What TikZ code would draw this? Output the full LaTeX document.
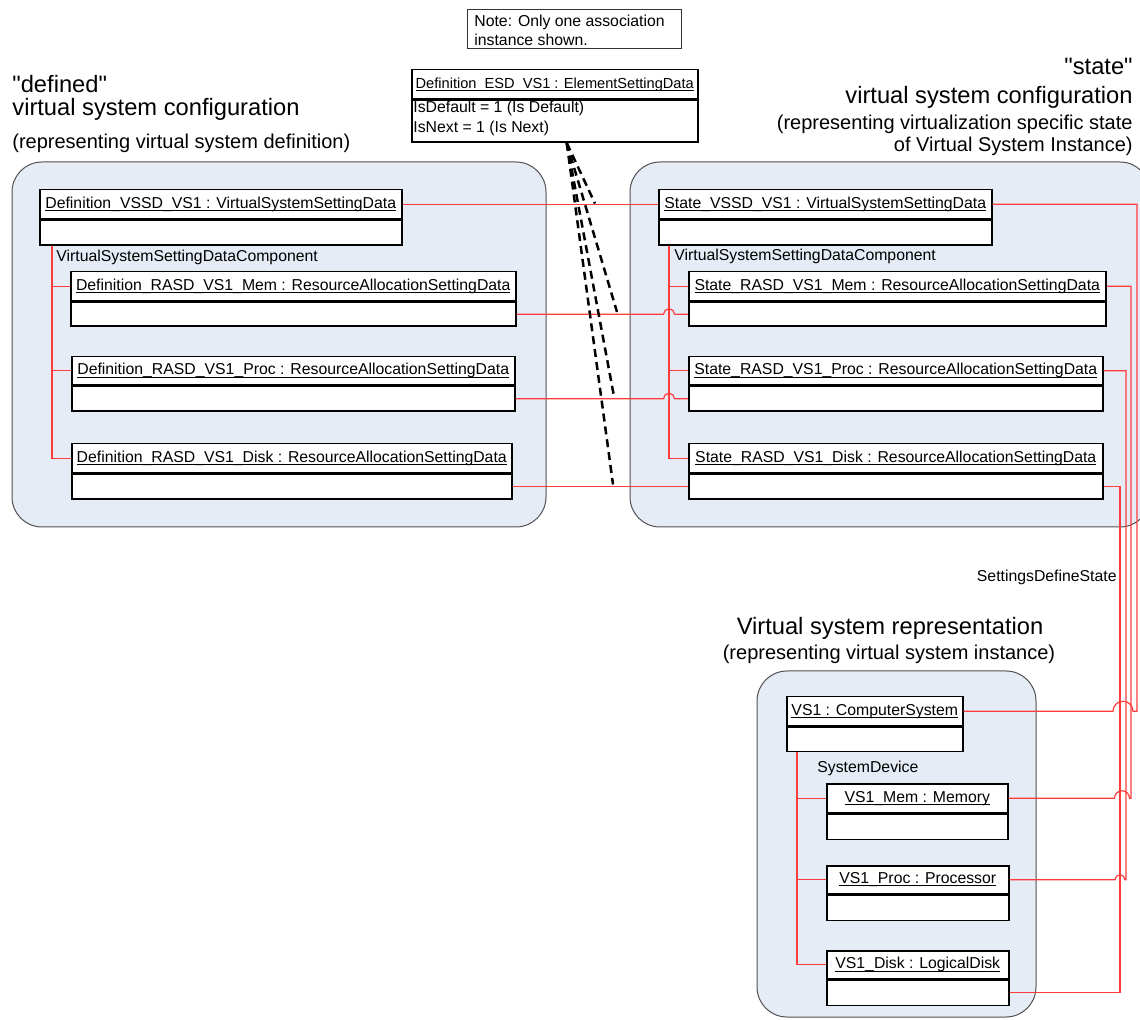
\documentclass[tikz,border=0pt]{standalone}
\usepackage{fontspec}
\setmainfont{Liberation Sans}
\newfontfamily\plainsans{Liberation Sans}
\usetikzlibrary{calc}

\definecolor{panelfill}{RGB}{230,236,246}
\definecolor{panelline}{RGB}{80,80,80}
\definecolor{assocred}{RGB}{255,60,60}

\newcommand{\boxfont}{\fontsize{7.9pt}{9.5pt}\selectfont}
\newcommand{\esdfont}{\fontsize{7.3pt}{9pt}\selectfont}
\newcommand{\titlefont}{\fontsize{11.85pt}{14pt}\selectfont}
\newcommand{\subfont}{\fontsize{10pt}{12pt}\selectfont}

% underlined object name, rule placed level with the underscores
\newsavebox{\ulsave}
\newcommand{\ulname}[1]{\sbox\ulsave{#1}\rlap{\rule[-1.35pt]{\wd\ulsave}{0.5pt}}\usebox\ulsave}

\tikzset{
  panel/.style={draw=panelline, fill=panelfill, line width=0.5pt, rounded corners=15pt},
  objhead/.style={draw=black, fill=white, line width=0.75pt, inner sep=0pt, font=\boxfont},
  objbody/.style={draw=black, fill=white, line width=0.75pt, inner sep=0pt},
  notebox/.style={draw=black!80, fill=white, line width=0.5pt, inner sep=0pt},
  assoc/.style={draw=assocred, line width=0.6pt},
  elsd/.style={draw=black, line width=1.25pt, dash pattern=on 4pt off 2.5pt},
  lbl/.style={inner sep=0pt, font=\boxfont},
  ttl/.style={inner sep=0pt, font=\titlefont},
  sub/.style={inner sep=0pt, font=\subfont},
}

% UML object: name, x1, y1, x2, y of divider, y2, title (pixel units)
\newcommand{\umlobj}[7]{%
  \node[objhead, anchor=north west, minimum width={(#4-#2)*0.5pt},
        minimum height={(#5-#3)*0.5pt}] (#1) at (#2,#3) {\ulname{#7}};
  \node[objbody, anchor=north west, minimum width={(#4-#2)*0.5pt},
        minimum height={(#6-#5)*0.5pt}] (#1b) at (#1.south west) {};
}

\begin{document}
\begin{tikzpicture}[x=0.5pt,y=-0.5pt]
\useasboundingbox (0,0) rectangle (1140,1020);

% containers
\draw[panel] (12,162) rectangle (546,527);
\begin{scope}
  \clip (0,0) rectangle (1140,1020);
  \draw[panel] (630,162) rectangle (1150,527);
\end{scope}
\draw[panel] (757,671) rectangle (1036,1017);

% titles
\node[ttl, anchor=base west] (dt1) at (12,93) {\plainsans "defined"};
\node[ttl, anchor=base west] (dt2) at (12,116) {virtual system configuration};
\node[sub, anchor=base west] (dt3) at (12,149) {(representing virtual system definition)};

\node[ttl, anchor=base east] (st1) at (1133,75) {\plainsans "state"};
\node[ttl, anchor=base east] (st2) at (1133,104) {virtual system configuration};
\node[sub, anchor=base east] (st3) at (1133,130) {(representing virtualization specific state};
\node[sub, anchor=base east] (st4) at (1133,152) {of Virtual System Instance)};

\node[ttl, anchor=base] (vt1) at (890,635) {Virtual system representation};
\node[sub, anchor=base] (vt2) at (889,660) {(representing virtual system instance)};

% note
\node[notebox, anchor=north west, minimum width=107pt, minimum height=19.5pt] (note) at (467,9) {};
\node[lbl, anchor=base west] (note1) at (474,27) {Note: Only one association};
\node[lbl, anchor=base west] (note2) at (474,46) {instance shown.};

% element setting data
\node[objhead, font=\esdfont, anchor=north west, minimum width=143pt, minimum height=14.5pt]
  (esd) at (411,69) {\ulname{Definition\_ESD\_VS1 : ElementSettingData}};
\node[objbody, anchor=north west, minimum width=143pt, minimum height=21pt] (esdb) at (esd.south west) {};
\node[lbl, anchor=base west] (esdl1) at (413,113) {IsDefault = 1 (Is Default)};
\node[lbl, anchor=base west] (esdl2) at (413,133) {IsNext = 1 (Is Next)};

% defined configuration
\umlobj{dvssd}{39}{189}{401}{218}{243}{Definition\_VSSD\_VS1 : VirtualSystemSettingData}
\umlobj{dmem}{70}{271}{515}{300}{324}{Definition\_RASD\_VS1\_Mem : ResourceAllocationSettingData}
\umlobj{dproc}{71}{356}{514}{384}{409}{Definition\_RASD\_VS1\_Proc : ResourceAllocationSettingData}
\umlobj{ddisk}{71}{443}{511}{472}{497}{Definition\_RASD\_VS1\_Disk : ResourceAllocationSettingData}
\node[lbl, anchor=base west] (dcomp) at (56,262) {VirtualSystemSettingDataComponent};

% state configuration
\umlobj{svssd}{658}{189}{991}{218}{243}{State\_VSSD\_VS1 : VirtualSystemSettingData}
\umlobj{smem}{688}{271}{1105}{300}{324}{State\_RASD\_VS1\_Mem : ResourceAllocationSettingData}
\umlobj{sproc}{688}{356}{1102}{384}{409}{State\_RASD\_VS1\_Proc : ResourceAllocationSettingData}
\umlobj{sdisk}{688}{443}{1102}{472}{497}{State\_RASD\_VS1\_Disk : ResourceAllocationSettingData}
\node[lbl, anchor=base west] (scomp) at (674,261) {VirtualSystemSettingDataComponent};

% virtual system
\umlobj{vscs}{786}{696}{962}{725}{749}{VS1 : ComputerSystem}
\umlobj{vsmem}{826}{783}{1007}{812}{837}{VS1\_Mem : Memory}
\umlobj{vsproc}{826}{865}{1008}{893}{918}{VS1\_Proc : Processor}
\umlobj{vsdisk}{826}{950}{1008}{978}{1003}{VS1\_Disk : LogicalDisk}
\node[lbl, anchor=base west] (sysdev) at (817,772) {SystemDevice};
\node[lbl, anchor=base east] (sds) at (1117,582) {SettingsDefineState};

% bus positions
\coordinate (dbus) at (52,0);
\coordinate (sbus) at (669,0);
\coordinate (vbus) at (797,0);
\coordinate (r1) at (1137,0);
\coordinate (r2) at (1131,0);
\coordinate (r3) at (1126,0);
\coordinate (r4) at (1120,0);

% VirtualSystemSettingDataComponent (defined)
\draw[assoc] (dvssdb.south -| dbus) |- (ddisk.west);
\draw[assoc] (dbus |- dmem.west) -- (dmem.west);
\draw[assoc] (dbus |- dproc.west) -- (dproc.west);

% VirtualSystemSettingDataComponent (state)
\draw[assoc] (svssdb.south -| sbus) |- (sdisk.west);
\draw[assoc] (sbus |- smem.west) -- (smem.west);
\draw[assoc] (sbus |- sproc.west) -- (sproc.west);

% SystemDevice
\draw[assoc] (vscsb.south -| vbus) |- (vsdisk.west);
\draw[assoc] (vbus |- vsmem.west) -- (vsmem.west);
\draw[assoc] (vbus |- vsproc.west) -- (vsproc.west);

% defined -> state associations
\draw[assoc] (dvssd.east) -- (svssd.west);
\draw[assoc] (dmemb.east) -- ($(dmemb.east -| sbus)+(-5.5,0)$)
  arc[start angle=180, end angle=0, radius=2.75pt] -- (smemb.west);
\draw[assoc] (dprocb.east) -- ($(dprocb.east -| sbus)+(-5.5,0)$)
  arc[start angle=180, end angle=0, radius=2.75pt] -- (sprocb.west);
\draw[assoc] (ddiskb.east) -- (sdiskb.west);

% SettingsDefineState
\draw[assoc] (svssd.east) -| (r1 |- vscs.east) -- ($(vscs.east -| r1)+(-4,0)$)
  arc[start angle=0, end angle=180, radius=5pt] -- (vscs.east);
\draw[assoc] (smem.east) -| (r2 |- vsmem.east) -- ($(vsmem.east -| r2)+(-1.5,0)$)
  arc[start angle=0, end angle=180, radius=3.75pt] -- (vsmem.east);
\draw[assoc] (sproc.east) -| (r3 |- vsproc.east) -- ($(vsproc.east -| r3)+(-1,0)$)
  arc[start angle=0, end angle=180, radius=2.5pt] -- (vsproc.east);
\draw[assoc] (sdiskb.east) -| (r4 |- vsdiskb.east) -- (vsdiskb.east);

% ElementSettingData links to the association instances
\coordinate (a1) at (595,203.5);
\coordinate (a2) at (617,312);
\coordinate (a3) at (614,396.5);
\coordinate (a4) at (613,484.5);
\foreach \t in {a1,a2,a3,a4}
  \draw[elsd] ([xshift=6pt]esdb.south) -- (\t);
\end{tikzpicture}
\end{document}
